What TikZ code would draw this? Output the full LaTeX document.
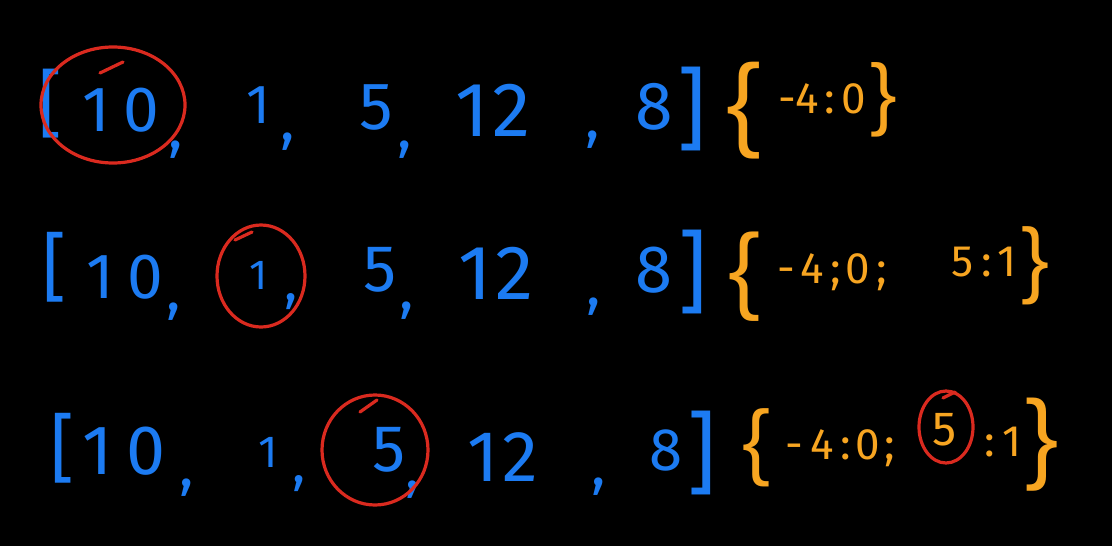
\documentclass[tikz,border=0pt]{standalone}
\usepackage{fontspec}
\setmainfont{Fira Sans}
\newfontfamily\bracefont{Liberation Sans}
\newcommand\fsz[1]{\fontsize{#1}{#1}\selectfont}
\definecolor{penblue}{HTML}{1C7BF2}
\definecolor{penorange}{HTML}{F7A521}
\definecolor{penred}{HTML}{DA2A1F}
\tikzset{
  blu/.style={text=penblue, inner sep=0pt, anchor=center},
  org/.style={text=penorange, inner sep=0pt, anchor=center},
  ring/.style={draw=penred, line width=3.2pt, line cap=round},
}
\begin{document}
\begin{tikzpicture}[x=1pt,y=1pt]
\path[use as bounding box, fill=black] (0,0) rectangle (1112,-546);
% ---------- row 1 ----------
\node[blu, font=\fsz{74}] (a1) at (50,-104) {[};
\node[blu, font=\fsz{64}] (a2) at (121,-110) {1\hspace{14pt}0};
\node[blu, font=\fsz{60}] (a3) at (176,-150) {,};
\node[blu, font=\fsz{55}] (a4) at (258,-105) {1};
\node[blu, font=\fsz{60}] (a5) at (288,-142) {,};
\node[blu, font=\fsz{67}] (a6) at (376,-107) {5};
\node[blu, font=\fsz{60}] (a7) at (405,-150) {,};
\node[blu, font=\fsz{77}] (a8) at (493,-110) {1\hspace{4pt}2};
\node[blu, font=\fsz{60}] (a9) at (593,-140) {,};
\node[blu, font=\fsz{68}] (a10) at (654,-107) {8};
\node[blu, font=\fsz{90}] (a11) at (692,-109) {]};
\node[org, font=\bracefont\fsz{104}] (a12) at (744,-111) {\{};
\node[org, font=\fsz{44}] (a13) at (822,-99) {-4\hspace{6pt}:\hspace{6pt}0};
\node[org, font=\bracefont\fsz{80}] (a14) at (884,-100) {\}};
\draw[ring] (113,-105) ellipse [x radius=72, y radius=58];
\draw[ring] (100,-73) -- (123,-62);
% ---------- row 2 ----------
\node[blu, font=\fsz{75}] (b1) at (55,-267) {[};
\node[blu, font=\fsz{64}] (b2) at (125,-277) {1\hspace{14pt}0};
\node[blu, font=\fsz{60}] (b3) at (174,-312) {,};
\node[blu, font=\fsz{42}] (b4) at (259,-275) {1};
\node[blu, font=\fsz{55}] (b5) at (291,-302) {,};
\node[blu, font=\fsz{66}] (b6) at (380,-270) {5};
\node[blu, font=\fsz{60}] (b7) at (407,-311) {,};
\node[blu, font=\fsz{77}] (b8) at (496,-273) {1\hspace{4pt}2};
\node[blu, font=\fsz{60}] (b9) at (594,-307) {,};
\node[blu, font=\fsz{67}] (b10) at (654,-270) {8};
\node[blu, font=\fsz{90}] (b11) at (693,-272) {]};
\node[org, font=\bracefont\fsz{96}] (b12) at (745,-277) {\{};
\node[org, font=\fsz{44}] (b13) at (832,-272) {-\hspace{6pt}4\hspace{6pt};\hspace{5pt}0\hspace{6pt};};
\node[org, font=\fsz{44}] (b14) at (984,-262) {5\hspace{8pt}:\hspace{6pt}1};
\node[org, font=\bracefont\fsz{84}] (b15) at (1036,-266) {\}};
\draw[ring] (261,-276) ellipse [x radius=44, y radius=51];
\draw[ring] (235,-240) -- (252,-232);
% ---------- row 3 ----------
\node[blu, font=\fsz{75}] (c1) at (63,-448) {[};
\node[blu, font=\fsz{70}] (c2) at (124,-451) {1\hspace{14pt}0};
\node[blu, font=\fsz{60}] (c3) at (187,-488) {,};
\node[blu, font=\fsz{45}] (c4) at (268,-452) {1};
\node[blu, font=\fsz{55}] (c5) at (299,-484) {,};
\node[blu, font=\fsz{66}] (c6) at (389,-450) {5};
\node[blu, font=\fsz{60}] (c7) at (413,-490) {,};
\node[blu, font=\fsz{72}] (c8) at (503,-457) {1\hspace{4pt}2};
\node[blu, font=\fsz{60}] (c9) at (599,-487) {,};
\node[blu, font=\fsz{60}] (c10) at (666,-450) {8};
\node[blu, font=\fsz{90}] (c11) at (702,-453) {]};
\node[org, font=\bracefont\fsz{84}] (c12) at (757,-448) {\{};
\node[org, font=\fsz{44}] (c13) at (840,-448) {-\hspace{8pt}4\hspace{6pt}:\hspace{5pt}0\hspace{4pt};};
\node[org, font=\fsz{48}] (c14) at (945,-430) {5};
\node[org, font=\fsz{44}] (c15) at (1003,-442) {:\hspace{8pt}1};
\node[org, font=\bracefont\fsz{100}] (c16) at (1042,-445) {\}};
\draw[ring] (375,-450) ellipse [x radius=53, y radius=55];
\draw[ring] (360,-412) -- (377,-400);
\draw[ring] (946,-427) ellipse [x radius=27, y radius=36];
\draw[ring] (943,-398) -- (955,-392);
\end{tikzpicture}
\end{document}
